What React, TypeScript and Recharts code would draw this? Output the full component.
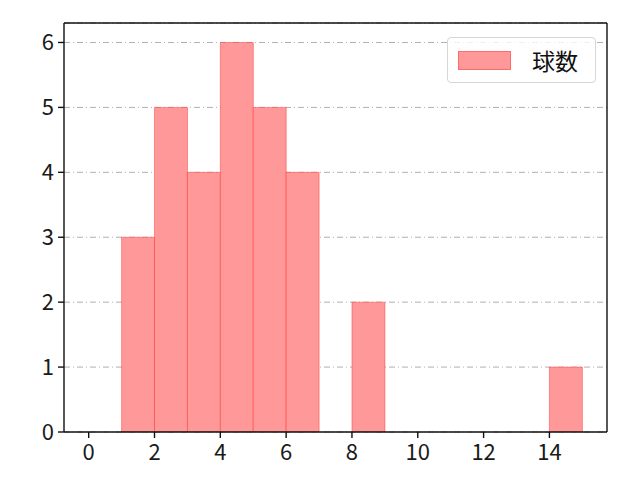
import React from 'react';
import {
  BarChart, Bar, XAxis, YAxis, CartesianGrid, ReferenceLine,
} from 'recharts';

// histogram bins (left edge), one unit wide
const binStarts = [0, 1, 2, 3, 4, 5, 6, 7, 8, 9, 10, 11, 12, 13, 14];
const counts = [0, 3, 5, 4, 6, 5, 4, 0, 2, 0, 0, 0, 0, 0, 1];
const xTicks = [0, 2, 4, 6, 8, 10, 12, 14];
const yTicks = [0, 1, 2, 3, 4, 5, 6];
const seriesName = '球数';

const xDomain: [number, number] = [-0.75, 15.75];
const yDomain: [number, number] = [0, 6.3];

const rows = binStarts.map((s, i) => ({ x: s + 0.5, count: counts[i] }));

const font = '"Noto Sans CJK JP", "DejaVu Sans", sans-serif';
const tickStyle = { fontSize: 22, fill: '#1a1a1a', fontFamily: font };

function LegendBox() {
  return (
    <div style={{
      position: 'absolute', left: 447, top: 37, width: 149, height: 46,
      border: '1px solid #d6d6d6', borderRadius: 4, background: 'rgba(255,255,255,0.8)',
      boxSizing: 'border-box', display: 'flex', alignItems: 'center', fontFamily: font,
    }}>
      <div style={{
        marginLeft: 10, width: 53, height: 19, background: '#ff9999',
        border: '1px solid rgba(255,0,0,0.3)', boxSizing: 'border-box',
      }} />
      <span style={{ marginLeft: 21, fontSize: 23, color: '#111', lineHeight: 1 }}>{seriesName}</span>
    </div>
  );
}

export default function App() {
  return (
    <div style={{ position: 'absolute', left: 0, top: 0, width: 640, height: 480, background: '#fff' }}>
      <BarChart
        width={640}
        height={480}
        data={rows}
        margin={{ top: 23, right: 33, bottom: 0, left: 0 }}
        barCategoryGap={0}
        barGap={0}
      >
        <CartesianGrid vertical={false} stroke="#b0b0b0" strokeDasharray="6 3 1 3" />
        <XAxis
          dataKey="x"
          type="number"
          domain={xDomain}
          ticks={xTicks}
          height={48}
          tickSize={6}
          tickMargin={6}
          tick={tickStyle}
          fontSize={22}
          stroke="#111"
          strokeWidth={1.4}
          allowDataOverflow
        />
        <YAxis
          domain={yDomain}
          ticks={yTicks}
          width={64}
          tickSize={6}
          tickMargin={4}
          tick={tickStyle}
          fontSize={22}
          stroke="#111"
          strokeWidth={1.4}
          allowDataOverflow
        />
        <Bar
          dataKey="count"
          name={seriesName}
          fill="#ff9999"
          stroke="rgba(255,0,0,0.35)"
          strokeWidth={1}
          isAnimationActive={false}
        />
        <ReferenceLine y={yDomain[1]} stroke="#111" strokeWidth={1.4} />
        <ReferenceLine x={xDomain[1]} stroke="#111" strokeWidth={1.4} />
      </BarChart>
      <LegendBox />
    </div>
  );
}
